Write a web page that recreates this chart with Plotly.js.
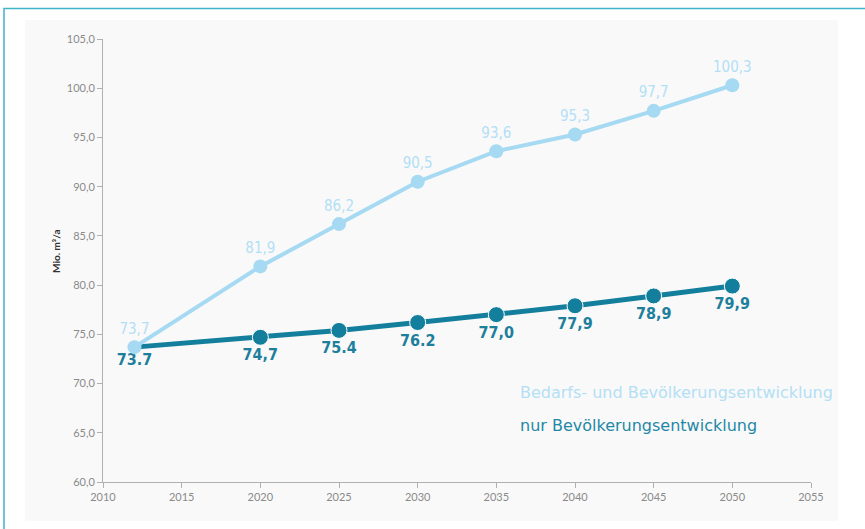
<!DOCTYPE html>
<html>
<head>
<meta charset="utf-8">
<script src="https://cdn.plot.ly/plotly-3.0.1.min.js"></script>
<style>html,body{margin:0;padding:0;background:#fff;}#chart{width:865px;height:529px;}</style>
</head>
<body>
<div id="chart"></div>
<script>
const years = [2012, 2020, 2025, 2030, 2035, 2040, 2045, 2050];
const bedarfValues = [73.7, 81.9, 86.2, 90.5, 93.6, 95.3, 97.7, 100.3];
const bedarfLabels = ["73,7", "81,9", "86,2", "90,5", "93,6", "95,3", "97,7", "100,3"];
const bevValues = [73.7, 74.7, 75.4, 76.2, 77.0, 77.9, 78.9, 79.9];
const bevLabels = ["73.7", "74,7", "75.4", "76.2", "77,0", "77,9", "78,9", "79,9"];
const seriesNames = ["Bedarfs- und Bevölkerungsentwicklung", "nur Bevölkerungsentwicklung"];
const yTitle = "Mio. m³/a";

const lightColor = "#a6d9f2";
const darkColor = "#137f9d";

const traces = [
  {
    x: years, y: bevValues, text: bevLabels, name: seriesNames[1],
    mode: "lines+markers+text", textposition: "bottom center",
    line: {color: darkColor, width: 5},
    marker: {color: darkColor, opacity: 1, size: years.map((y, i) => i === 0 ? 8 : 16)},
    textfont: {family: "'DejaVu Sans Condensed', 'Liberation Sans Narrow', sans-serif", size: 16, color: "#1e7f9c", weight: "bold"},
    cliponaxis: false, hoverinfo: "skip"
  },
  {
    x: years, y: bedarfValues, text: bedarfLabels, name: seriesNames[0],
    mode: "lines+markers+text", textposition: "top center",
    line: {color: lightColor, width: 4},
    marker: {color: lightColor, opacity: 1, size: 14},
    textfont: {family: "'DejaVu Sans Condensed', 'Liberation Sans Narrow', sans-serif", size: 15, color: "#b3e0f5"},
    cliponaxis: false, hoverinfo: "skip"
  }
];

const L = 103, R = 54, T = 39, B = 47, W = 865, H = 529;
const pw = W - L - R, ph = H - T - B;
const px = v => (v - L) / pw;
const py = v => (H - B - v) / ph;

const layout = {
  width: W, height: H,
  margin: {l: L, r: R, t: T, b: B},
  paper_bgcolor: "#ffffff",
  plot_bgcolor: "rgba(0,0,0,0)",
  showlegend: false,
  separators: ",.",
  font: {family: "Lato, 'Open Sans', sans-serif"},
  xaxis: {
    range: [2010, 2055], tickvals: [2010,2015,2020,2025,2030,2035,2040,2045,2050,2055],
    showgrid: false, zeroline: false, showline: true, linecolor: "#b0b0b0", linewidth: 1,
    ticks: "outside", ticklen: 5, tickcolor: "#b0b0b0",
    tickfont: {size: 11, color: "#8a8a8a"}
  },
  yaxis: {
    range: [60, 105], dtick: 5, tickformat: ".1f",
    showgrid: false, zeroline: false, showline: true, linecolor: "#b0b0b0", linewidth: 1,
    ticks: "outside", ticklen: 5, tickcolor: "#b0b0b0",
    tickfont: {size: 11, color: "#8a8a8a"}
  },
  shapes: [
    {type: "rect", xref: "paper", yref: "paper", layer: "below",
     x0: px(4), x1: px(870), y0: py(540), y1: py(8.5),
     line: {color: "#3fb3c8", width: 1.5}, fillcolor: "#ffffff"},
    {type: "rect", xref: "paper", yref: "paper", layer: "below",
     x0: px(25), x1: px(838), y0: py(521), y1: py(20),
     line: {width: 0}, fillcolor: "#f9f9f9"}
  ],
  annotations: [
    {xref: "paper", yref: "paper", x: px(48), y: py(251), text: yTitle, textangle: -90,
     showarrow: false, font: {size: 10, color: "#333333", family: "Lato, sans-serif", weight: "bold"}},
    {xref: "paper", yref: "paper", x: px(518), y: py(404), xanchor: "left", text: seriesNames[0],
     showarrow: false, font: {size: 16, color: "#b3e0f5", family: "'DejaVu Sans', sans-serif"}},
    {xref: "paper", yref: "paper", x: px(518), y: py(437), xanchor: "left", text: seriesNames[1],
     showarrow: false, font: {size: 16, color: "#1f88a6", family: "'DejaVu Sans', sans-serif"}}
  ]
};

Plotly.newPlot("chart", traces, layout, {staticPlot: true, displayModeBar: false});
</script>
</body>
</html>
